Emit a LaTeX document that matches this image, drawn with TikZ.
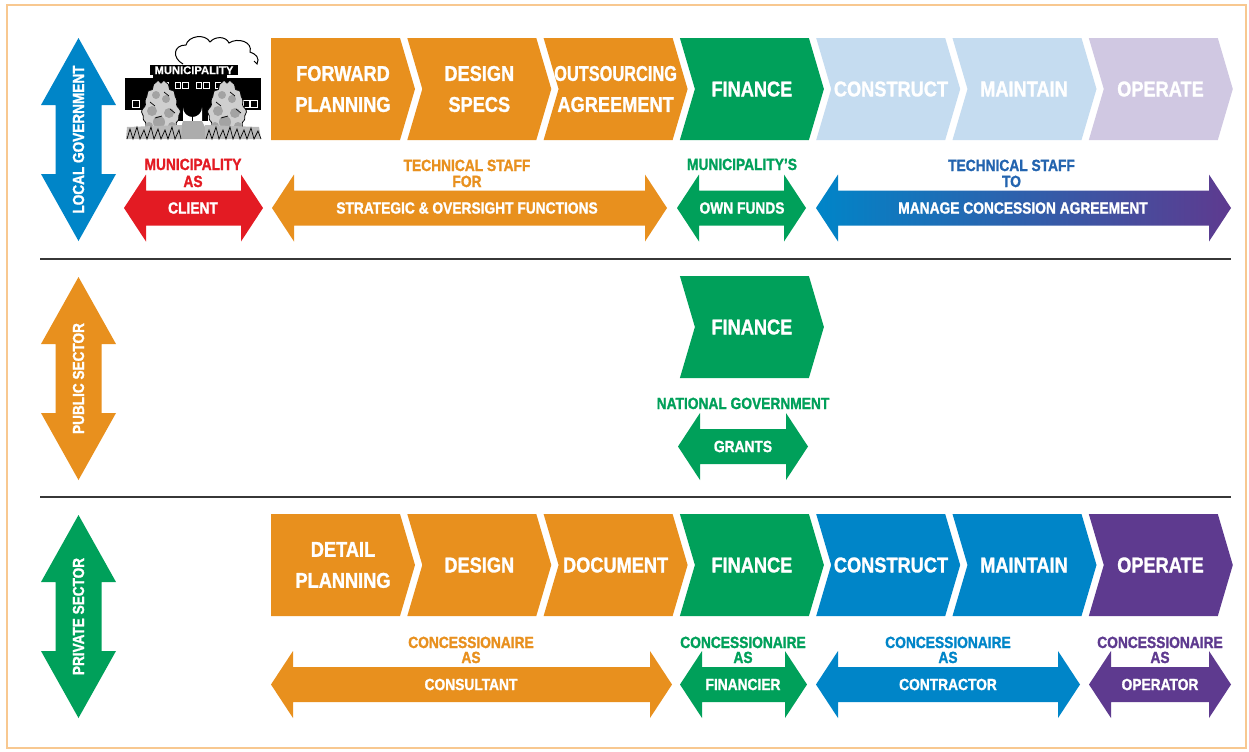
\documentclass[tikz,border=0pt]{standalone}
\usepackage{fontspec}
\usepackage{graphicx}
\newfontfamily\cnd{Liberation Sans}[FakeStretch=0.85, BoldFeatures={FakeBold=1.3}]
\newfontfamily\plainsans{Liberation Sans}[BoldFeatures={FakeBold=0.6}]

\definecolor{orng}{RGB}{232,144,30}
\definecolor{grn}{RGB}{0,160,90}
\definecolor{blu}{RGB}{0,133,200}
\definecolor{prp}{RGB}{94,58,143}
\definecolor{ltblu}{RGB}{197,220,240}
\definecolor{ltprp}{RGB}{208,200,226}
\definecolor{rd}{RGB}{227,27,35}
\definecolor{midblu}{RGB}{35,100,175}
\definecolor{framec}{RGB}{248,200,144}
\definecolor{rulec}{RGB}{55,55,55}

% chevron body: #1 left x, #2 top y, #3 colour, #4 depth of the left notch
\newcommand\chevshape[4]{%
  \fill[#3] (#1,#2) -- ++(129,0) -- ++(15,51) -- ++(-15,51) -- ++(-129,0) -- ++(#4,-51) -- cycle;}

% horizontal double arrow: #1 left tip x, #2 right tip x, #3 centre y, #4 paint options
\newcommand\harrow[4]{%
  \path[#4] (#1,#3) -- ({#1+22},{#3-33.5}) -- ({#1+22},{#3-17.5}) -- ({#2-22},{#3-17.5})
    -- ({#2-22},{#3-33.5}) -- (#2,#3) -- ({#2-22},{#3+33.5}) -- ({#2-22},{#3+17.5})
    -- ({#1+22},{#3+17.5}) -- ({#1+22},{#3+33.5}) -- cycle;}

% vertical double arrow: #1 centre x, #2 top tip y, #3 bottom tip y, #4 colour
\newcommand\varrow[4]{%
  \fill[#4] (#1,#2) -- ({#1+37.5},{#2+67}) -- ({#1+23},{#2+67}) -- ({#1+23},{#3-67})
    -- ({#1+37.5},{#3-67}) -- (#1,#3) -- ({#1-37.5},{#3-67}) -- ({#1-23},{#3-67})
    -- ({#1-23},{#2+67}) -- ({#1-37.5},{#2+67}) -- cycle;}

% bushy tree, narrower at the top: #1 centre x, #2 centre y
\newcommand\bushtree[2]{%
  \filldraw[fill=gray!38, draw=black, line width=0.4pt]
    plot[domain=0:356, samples=90, smooth cycle]
    ({#1+22*(0.8+0.2*sin(\x))*(1+0.05*sin(9*\x)+0.04*sin(17*\x))*cos(\x)},
     {#2+27*(1+0.05*sin(9*\x)+0.03*sin(17*\x))*sin(\x)});
  \foreach \dx/\dy/\rr in {-5/-13/4, 5/-9/4, -9/3/5, 8/5/5, -2/14/6, 11/18/4, -12/18/4}
    \fill[gray!72] ({#1+\dx},{#2+\dy}) circle[radius=\rr];
  \draw[black, line width=0.35pt]
    ({#1-11},{#2-6}) -- ({#1-6},{#2-2}) ({#1+3},{#2-16}) -- ({#1+8},{#2-12})
    ({#1-6},{#2+10}) -- ({#1+1},{#2+8}) ({#1+9},{#2+1}) -- ({#1+14},{#2+5})
    ({#1-13},{#2+20}) -- ({#1-7},{#2+22}) ({#1+3},{#2+24}) -- ({#1+9},{#2+20});}

\begin{document}
\begin{tikzpicture}[x=0.5pt,y=-0.5pt,
  chevtext/.style={text=white, align=center, inner sep=0pt,
    font=\cnd\bfseries\fontsize{10.7}{15.5}\selectfont},
  lbl/.style={anchor=base, inner sep=0pt,
    font=\cnd\bfseries\fontsize{8.1}{8}\selectfont},
  shafttext/.style={text=white, inner sep=0pt,
    font=\cnd\bfseries\fontsize{8.1}{8}\selectfont},
  sidetext/.style={text=white, rotate=90, inner sep=0pt,
    font=\cnd\bfseries\fontsize{8}{8}\selectfont},
  sep/.style={draw=rulec, line width=0.75pt},
]
\useasboundingbox (0,0) rectangle (1249,751);
\fill[white] (0,0) rectangle (1249,751);
\draw[framec, line width=1.3pt] (7,5) rectangle (1246,748);

% band separators
\draw[sep] (40,259) -- (1231,259);
\draw[sep] (40,497) -- (1231,497);

% sector arrows
\varrow{78.5}{38}{241}{blu}
\node[sidetext] (lg) at (78.5,139.5) {LOCAL GOVERNMENT};
\varrow{78.5}{277}{480}{orng}
\node[sidetext] (ps) at (78.5,378.5) {PUBLIC SECTOR};
\varrow{78.5}{515}{718}{grn}
\node[sidetext] (pv) at (78.5,616.5) {PRIVATE SECTOR};

% ---------------- municipality building ----------------
\begin{scope}
  % cloud
  \draw[black, line width=0.5pt] (183,64) .. controls (172,58) and (173,45) .. (186,45)
    .. controls (188,36) and (205,33) .. (210,42)
    .. controls (215,36) and (226,36) .. (229,43)
    .. controls (238,37) and (253,42) .. (250,52)
    .. controls (256,54) and (260,58) .. (257,64) -- (254,61);
  % sign
  \fill[black] (150,65) rectangle (238,75);
  \node[text=white, inner sep=0pt, font=\plainsans\bfseries\fontsize{5.6}{5}\selectfont]
    (sign) at (194,70.2) {MUNICIPALITY};
  % central block and wings
  \fill[black] (153,75) rectangle (227,92);
  \fill[black] (125,78) rectangle (261,110);
  \fill[black] (178,92) rectangle (208,121);
  \draw[white, line width=0.5pt] (157,81) -- (157,91) (223,81) -- (223,91);
  \foreach \wx in {163,175,182.5,196,203.5,215}
    \draw[white, line width=0.5pt] (\wx,82) rectangle ++(5.5,6);
  \draw[white, line width=0.5pt] (132,100) rectangle (139,107);
  \draw[white, line width=0.5pt] (243,100) rectangle (249.5,107);
  \draw[white, line width=0.5pt] (250.5,100) rectangle (257,107);
  % arched door
  \fill[white] (183,121) -- (183,107.5) arc[start angle=180, end angle=0, radius=9.5] -- (202,121) -- cycle;
  \draw[black, line width=0.7pt] (192.5,98) -- (192.5,121) (184,107) -- (201,107);
  % path
  \fill[gray!65] (183,121) -- (202,121) -- (211,139) -- (178,139) -- cycle;
  % trees
  \bushtree{161}{108}
  \bushtree{227}{108}
  % shrubs along the base
  \fill[gray!55] (127,127) -- (182,125) -- (181,139) -- (126,139) -- cycle;
  \fill[gray!55] (205,125) -- (259,127) -- (261,139) -- (205,139) -- cycle;
  \draw[black, line width=0.35pt] (127,139) -- (130,129) -- (133,139) -- (137,127) -- (140,139) -- (144,130)
    -- (147,139) -- (151,127) -- (154,139) -- (158,129) -- (161,139) -- (165,130) -- (168,139)
    -- (172,127) -- (175,139) -- (179,130) -- (181,139);
  \draw[black, line width=0.35pt] (206,139) -- (209,130) -- (212,139) -- (216,127) -- (219,139) -- (223,130)
    -- (226,139) -- (230,127) -- (233,139) -- (237,129) -- (240,139) -- (244,130) -- (247,139)
    -- (251,128) -- (254,139) -- (258,131) -- (261,139);
\end{scope}

% ---------------- local government row ----------------
\chevshape{271}{38}{orng}{0}
\node[chevtext] (lfp) at (343,89) {FORWARD\\PLANNING};
\chevshape{407.3}{38}{orng}{15}
\node[chevtext] (lds) at (479.3,89) {DESIGN\\SPECS};
\chevshape{543.6}{38}{orng}{15}
\node[chevtext] (loa) at (615.6,89) {\scalebox{0.9}[1]{OUTSOURCING}\\AGREEMENT};
\chevshape{679.9}{38}{grn}{15}
\node[chevtext] (lfi) at (751.9,89) {FINANCE};
\chevshape{816.2}{38}{ltblu}{15}
\node[chevtext] (lco) at (891,89) {CONSTRUCT};
\chevshape{952.5}{38}{ltblu}{15}
\node[chevtext] (lma) at (1024,89) {MAINTAIN};
\chevshape{1088.8}{38}{ltprp}{15}
\node[chevtext] (lop) at (1160.5,89) {OPERATE};

\harrow{124}{263}{208}{fill=rd}
\node[lbl, text=rd] (lc1) at (193,170) {MUNICIPALITY};
\node[lbl, text=rd] (lc2) at (193,187) {AS};
\node[shafttext] (lc3) at (193,208) {CLIENT};

\harrow{272}{667}{208}{fill=orng}
\node[lbl, text=orng] (lt1) at (467,171) {TECHNICAL STAFF};
\node[lbl, text=orng] (lt2) at (467,187) {FOR};
\node[shafttext] (lt3) at (467,208) {STRATEGIC \& OVERSIGHT FUNCTIONS};

\harrow{677}{806}{208}{fill=grn}
\node[lbl, text=grn] (lf1) at (742,170) {MUNICIPALITY’S};
\node[shafttext] (lf2) at (742,208) {OWN FUNDS};

\harrow{816}{1231}{208}{left color=blu, middle color=midblu, right color=prp}
\node[lbl, text=midblu] (lm1) at (1011.5,171) {TECHNICAL STAFF};
\node[lbl, text=midblu] (lm2) at (1011.5,187) {TO};
\node[shafttext] (lm3) at (1023,208) {MANAGE CONCESSION AGREEMENT};

% ---------------- public sector row ----------------
\chevshape{679.9}{276}{grn}{15}
\node[chevtext] (pfi) at (751.9,327) {FINANCE};
\node[lbl, text=grn] (pn1) at (743,409) {NATIONAL GOVERNMENT};
\harrow{678}{808}{446.5}{fill=grn}
\node[shafttext] (pn2) at (743,446.5) {GRANTS};

% ---------------- private sector row ----------------
\chevshape{271}{514}{orng}{0}
\node[chevtext] (vdp) at (343,565) {DETAIL\\PLANNING};
\chevshape{407.3}{514}{orng}{15}
\node[chevtext] (vde) at (479.3,565) {DESIGN};
\chevshape{543.6}{514}{orng}{15}
\node[chevtext] (vdo) at (615.6,565) {DOCUMENT};
\chevshape{679.9}{514}{grn}{15}
\node[chevtext] (vfi) at (751.9,565) {FINANCE};
\chevshape{816.2}{514}{blu}{15}
\node[chevtext] (vco) at (891,565) {CONSTRUCT};
\chevshape{952.5}{514}{blu}{15}
\node[chevtext] (vma) at (1024,565) {MAINTAIN};
\chevshape{1088.8}{514}{prp}{15}
\node[chevtext] (vop) at (1160.5,565) {OPERATE};

\harrow{271}{672}{684.5}{fill=orng}
\node[lbl, text=orng] (va1) at (471,648) {CONCESSIONAIRE};
\node[lbl, text=orng] (va2) at (471,663) {AS};
\node[shafttext] (va3) at (471,684.5) {CONSULTANT};

\harrow{680}{807}{684.5}{fill=grn}
\node[lbl, text=grn] (vb1) at (743,648) {CONCESSIONAIRE};
\node[lbl, text=grn] (vb2) at (743,663) {AS};
\node[shafttext] (vb3) at (743,684.5) {FINANCIER};

\harrow{816}{1080}{684.5}{fill=blu}
\node[lbl, text=blu] (vc1) at (948,648) {CONCESSIONAIRE};
\node[lbl, text=blu] (vc2) at (948,663) {AS};
\node[shafttext] (vc3) at (948,684.5) {CONTRACTOR};

\harrow{1089}{1231}{684.5}{fill=prp}
\node[lbl, text=prp] (vd1) at (1160,648) {CONCESSIONAIRE};
\node[lbl, text=prp] (vd2) at (1160,663) {AS};
\node[shafttext] (vd3) at (1160,684.5) {OPERATOR};
\end{tikzpicture}
\end{document}
